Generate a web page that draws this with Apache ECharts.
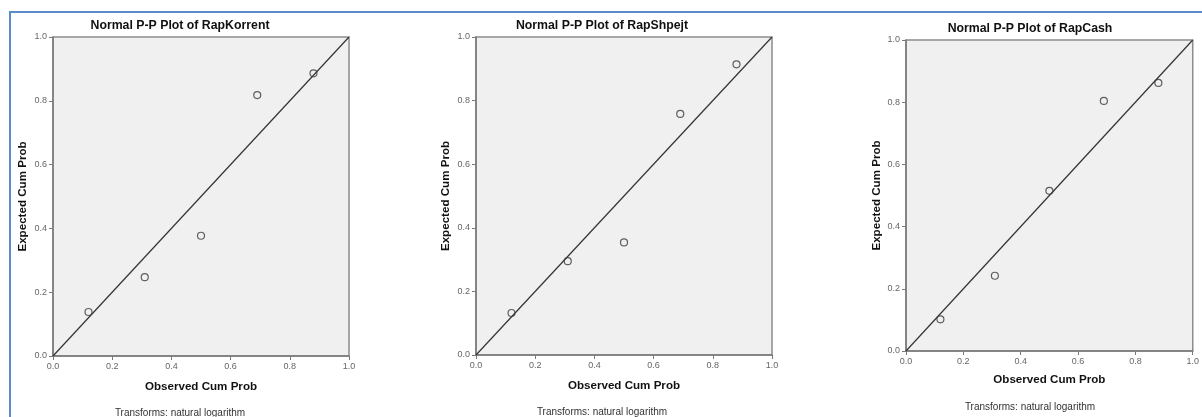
<!DOCTYPE html>
<html>
<head>
<meta charset="utf-8">
<script src="https://cdn.jsdelivr.net/npm/echarts@6/dist/echarts.min.js"></script>
<style>
  html, body { margin: 0; padding: 0; background: #fff; }
  #main { width: 1202px; height: 417px; }
</style>
</head>
<body>
<div id="main"></div>
<script>
// data
var panelNames = ['RapKorrent', 'RapShpejt', 'RapCash'];
var observed = [0.12, 0.31, 0.50, 0.69, 0.88];
var korrentExpected = [0.138, 0.247, 0.377, 0.818, 0.886];
var shpejtExpected = [0.132, 0.295, 0.354, 0.758, 0.914];
var cashExpected = [0.102, 0.242, 0.515, 0.804, 0.862];
var refLine = [[0, 0], [1, 1]];
var axisTicks = [0.0, 0.2, 0.4, 0.6, 0.8, 1.0];
var footNote = 'Transforms: natural logarithm';

var expectedSets = [korrentExpected, shpejtExpected, cashExpected];

var font = 'Arial, "Liberation Sans", sans-serif';

// layout per panel
var grids = [
    { left: 53, top: 37, width: 296, height: 319 },
    { left: 476, top: 37, width: 296, height: 318 },
    { left: 906, top: 40, width: 289, height: 311 }
];
var titlePos = [[180, 20], [602, 20], [1030, 23]];
var notePos = [[180, 413], [602, 412], [1030, 407]];
var xNameGap = [25, 25, 23];
var yNameGap = [24, 24, 23];

var myChart = echarts.init(document.getElementById('main'));

var option = {
    backgroundColor: '#fff',
    animation: false,
    title: [],
    grid: [],
    xAxis: [],
    yAxis: [],
    series: [],
    graphic: [
        { type: 'rect', shape: { x: 9, y: 11, width: 1200, height: 2 }, style: { fill: '#5b8bc9' } },
        { type: 'rect', shape: { x: 9, y: 11, width: 2, height: 420 }, style: { fill: '#5b8bc9' } }
    ]
};

function axisCommon(name, gap) {
    return {
        type: 'value',
        min: 0,
        max: 1,
        interval: 0.2,
        name: name,
        nameLocation: 'middle',
        nameGap: gap,
        nameTextStyle: { fontFamily: font, fontSize: 11.6, fontWeight: 'bold', color: '#111' },
        axisLine: { show: true, lineStyle: { color: '#7a7a7a', width: 1.5 } },
        axisTick: { show: true, length: 4, lineStyle: { color: '#7a7a7a' } },
        axisLabel: {
            fontFamily: font, fontSize: 9, color: '#666', margin: 6,
            formatter: function (v) { return axisTicks.indexOf(v) >= 0 ? v.toFixed(1) : ''; }
        },
        splitLine: { show: false }
    };
}

for (var i = 0; i < 3; i++) {
    var g = grids[i];
    option.grid.push({
        left: g.left, top: g.top, width: g.width, height: g.height,
        show: true, backgroundColor: '#f0f0f0', borderColor: '#8c8c8c', borderWidth: 1.5
    });
    option.title.push({
        text: 'Normal P-P Plot of ' + panelNames[i],
        left: titlePos[i][0], top: titlePos[i][1], textAlign: 'center', padding: 0,
        textStyle: { fontFamily: font, fontSize: 12.3, fontWeight: 'bold', color: '#111' }
    });
    var xa = axisCommon('Observed Cum Prob', xNameGap[i]);
    xa.gridIndex = i;
    option.xAxis.push(xa);
    var ya = axisCommon('Expected Cum Prob', yNameGap[i]);
    ya.gridIndex = i;
    option.yAxis.push(ya);

    option.series.push({
        type: 'line',
        xAxisIndex: i, yAxisIndex: i,
        data: refLine,
        symbol: 'none',
        lineStyle: { color: '#333', width: 1.2 },
        z: 3
    });
    option.series.push({
        type: 'scatter',
        xAxisIndex: i, yAxisIndex: i,
        data: observed.map(function (x, k) { return [x, expectedSets[i][k]]; }),
        symbol: 'circle',
        symbolSize: 7,
        itemStyle: { color: 'rgba(0,0,0,0)', borderColor: '#3a3a3a', borderWidth: 1.2 },
        z: 4
    });
    option.graphic.push({
        type: 'text',
        x: notePos[i][0], y: notePos[i][1],
        style: {
            text: footNote, fontFamily: font, fontSize: 10, fill: '#333',
            textAlign: 'center', textVerticalAlign: 'middle'
        }
    });
}

myChart.setOption(option);
</script>
</body>
</html>
